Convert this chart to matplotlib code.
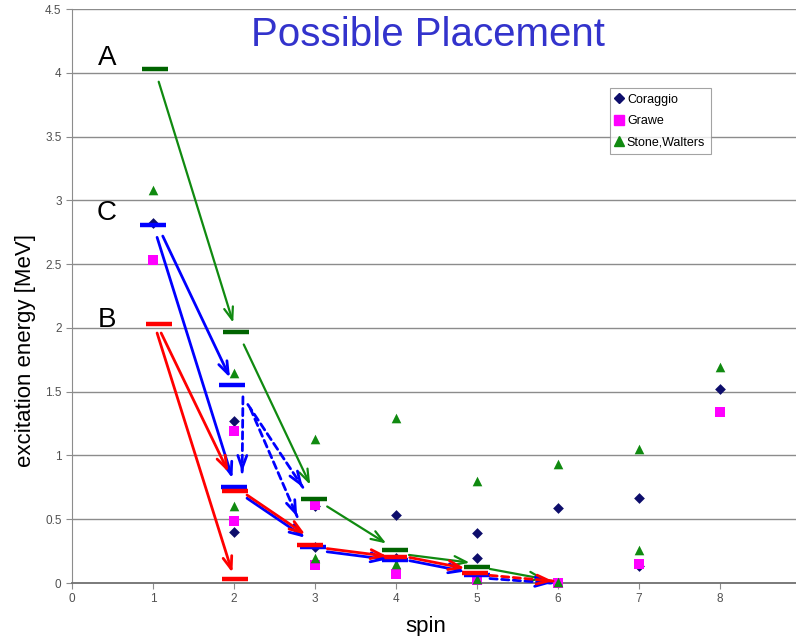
import matplotlib
matplotlib.use("Agg")
import matplotlib.pyplot as plt
from matplotlib.lines import Line2D

plt.rcParams['font.family'] = ['Liberation Sans', 'DejaVu Sans']

# ---- data ----
cor_spin = [1, 2, 2, 3, 3, 4, 4, 5, 5, 6, 7, 7, 8]
cor_e = [2.82, 1.27, 0.40, 0.60, 0.28, 0.53, 0.20, 0.39, 0.20, 0.59, 0.67, 0.13, 1.52]

grawe_spin = [1, 2, 2, 3, 3, 4, 5, 6, 7, 8]
grawe_e = [2.53, 1.19, 0.49, 0.61, 0.14, 0.07, 0.02, 0.0, 0.15, 1.34]

sw_spin = [1, 2, 2, 3, 3, 4, 4, 5, 5, 6, 6, 7, 7, 8]
sw_e = [3.08, 1.65, 0.60, 1.13, 0.20, 1.29, 0.15, 0.80, 0.03, 0.93, 0.01, 1.05, 0.26, 1.69]

# level bars (A: green, C: blue, B: red)
green_lvl_spin = [1.02, 2.02, 2.99, 3.99, 5.0]
green_lvl_e = [4.03, 1.97, 0.655, 0.26, 0.125]
blue_lvl_spin = [1.0, 1.98, 2.0, 2.97, 3.99, 5.0]
blue_lvl_e = [2.81, 1.55, 0.753, 0.285, 0.18, 0.06]
red_lvl_spin = [1.07, 2.01, 2.01, 2.94, 3.97, 4.98]
red_lvl_e = [2.03, 0.72, 0.03, 0.30, 0.205, 0.08]

# transitions (from -> to)
green_from = [(1.07, 3.93), (2.12, 1.87), (3.15, 0.60), (4.16, 0.22), (5.16, 0.11)]
green_to = [(1.99, 2.04), (2.94, 0.77), (3.88, 0.31), (4.91, 0.16), (5.84, 0.03)]

blue_from = [(1.05, 2.71), (1.12, 2.72), (2.16, 0.665), (3.15, 0.245), (4.17, 0.175)]
blue_to = [(1.98, 0.82), (1.95, 1.61), (2.88, 0.355), (3.89, 0.185), (4.85, 0.09)]
blue_dash_from = [(2.11, 1.46), (2.17, 1.40), (2.20, 1.37), (5.16, 0.035)]
blue_dash_to = [(2.10, 0.87), (2.85, 0.75), (2.78, 0.52), (5.92, 0.0)]

red_from = [(1.05, 1.96), (1.10, 1.96), (2.16, 0.69), (3.15, 0.27), (4.17, 0.20)]
red_to = [(1.98, 0.08), (1.93, 0.87), (2.88, 0.38), (3.89, 0.21), (4.85, 0.115)]
red_dash_from = [(5.16, 0.06)]
red_dash_to = [(5.94, 0.015)]

labels_txt = ["A", "C", "B"]
labels_spin = [0.43, 0.43, 0.43]
labels_e = [4.12, 2.90, 2.06]

x_ticks = list(range(0, 10))
y_ticks = [0, 0.5, 1, 1.5, 2, 2.5, 3, 3.5, 4, 4.5]
y_ticklabels = ["0", "0.5", "1", "1.5", "2", "2.5", "3", "3.5", "4", "4.5"]

# ---- styling ----
C_NAVY = "#0d0d6b"
C_MAG = "#ff00ff"
C_GREEN = "#108a10"
C_DGREEN = "#006400"
C_BLUE = "#0000ff"
C_RED = "#ff0000"

fig = plt.figure(figsize=(7.96, 6.36), dpi=100)
ax = fig.add_axes([0.0905, 0.0833, 0.9158, 0.9025])
ax.set_xlim(0, 9)
ax.set_ylim(0, 4.5)

for yv in y_ticks[1:]:
    ax.axhline(yv, color="#8c8c8c", lw=1.0, zorder=0)

ax.spines['top'].set_visible(False)
ax.spines['right'].set_visible(False)
ax.spines['left'].set_color("#8c8c8c")
ax.spines['bottom'].set_color("#707070")
ax.spines['bottom'].set_linewidth(1.3)
ax.set_xticks(x_ticks)
ax.set_yticks(y_ticks)
ax.set_yticklabels(y_ticklabels)
ax.tick_params(axis='both', colors="#8c8c8c", labelcolor="#505050", labelsize=8.5,
               length=4, direction='out')

ax.scatter(cor_spin, cor_e, marker='D', s=30, color=C_NAVY, zorder=3, clip_on=False, lw=0)
ax.scatter(grawe_spin, grawe_e, marker='s', s=48, color=C_MAG, zorder=3, clip_on=False, lw=0)
ax.scatter(sw_spin, sw_e, marker='^', s=48, color=C_GREEN, zorder=3, clip_on=False, lw=0)

hw = 0.16
ax.hlines(blue_lvl_e, [s - hw for s in blue_lvl_spin], [s + hw for s in blue_lvl_spin],
          color=C_BLUE, lw=3.2, zorder=4)
ax.hlines(red_lvl_e, [s - hw for s in red_lvl_spin], [s + hw for s in red_lvl_spin],
          color=C_RED, lw=3.2, zorder=5)
ax.hlines(green_lvl_e, [s - hw for s in green_lvl_spin], [s + hw for s in green_lvl_spin],
          color=C_DGREEN, lw=3.2, zorder=5)

HEAD = "->,head_length=0.75,head_width=0.27"

def arrow(p0, p1, color, lw=1.8, dashed=False, z=6):
    if dashed:
        ax.annotate("", xy=p1, xytext=p0,
                    arrowprops=dict(arrowstyle="-", color=color, lw=lw, linestyle=(0, (2.6, 1.6)),
                                    shrinkA=0, shrinkB=0), zorder=z)
        dx, dy = p1[0] - p0[0], p1[1] - p0[1]
        q = (p1[0] - dx * 0.02, p1[1] - dy * 0.02)
        ax.annotate("", xy=p1, xytext=q,
                    arrowprops=dict(arrowstyle=HEAD, color=color, lw=lw, shrinkA=0, shrinkB=0,
                                    mutation_scale=12), zorder=z)
    else:
        ax.annotate("", xy=p1, xytext=p0,
                    arrowprops=dict(arrowstyle=HEAD, color=color, lw=lw, shrinkA=0, shrinkB=0,
                                    mutation_scale=12), zorder=z)

for a, b in zip(green_from, green_to):
    arrow(a, b, C_GREEN, lw=1.6)
for a, b in zip(blue_from, blue_to):
    arrow(a, b, C_BLUE, lw=2.0)
for a, b in zip(blue_dash_from, blue_dash_to):
    arrow(a, b, C_BLUE, lw=2.0, dashed=True)
for a, b in zip(red_from, red_to):
    arrow(a, b, C_RED, lw=2.0, z=7)
for a, b in zip(red_dash_from, red_dash_to):
    arrow(a, b, C_RED, lw=2.0, dashed=True, z=7)

for t, xs, ys in zip(labels_txt, labels_spin, labels_e):
    ax.text(xs, ys, t, fontsize=20, ha='center', va='center', color='black')

fig.text(0.537, 0.945, "Possible Placement", fontsize=29, color="#3333cc",
         ha='center', va='center')

ax.set_xlabel("spin", fontsize=16)
ax.xaxis.set_label_coords(0.485, -0.058)
ax.set_ylabel("excitation energy [MeV]", fontsize=16)
ax.yaxis.set_label_coords(-0.049, 0.405)

handles = [
    Line2D([], [], marker='D', color=C_NAVY, ls='none', markersize=5),
    Line2D([], [], marker='s', color=C_MAG, ls='none', markersize=7),
    Line2D([], [], marker='^', color=C_GREEN, ls='none', markersize=7),
]
leg = ax.legend(handles, ["Coraggio", "Grawe", "Stone,Walters"], loc='upper left',
                bbox_to_anchor=(0.738, 0.862), fontsize=9, frameon=True, fancybox=False,
                handlelength=0.6, handletextpad=0.3, borderpad=0.45, labelspacing=0.75,
                borderaxespad=0)
leg.get_frame().set_edgecolor("#8c8c8c")
leg.get_frame().set_linewidth(0.8)

fig.savefig("out.png", dpi=100)
